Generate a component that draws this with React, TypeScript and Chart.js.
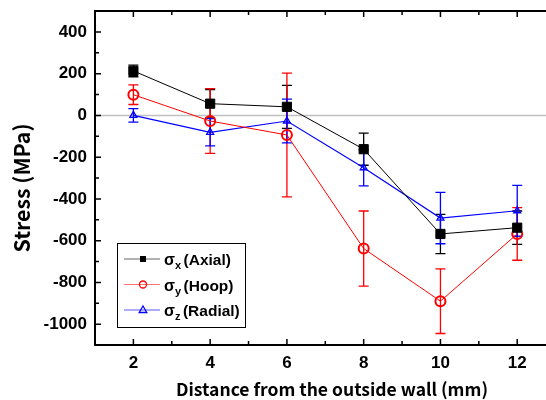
import React, { useEffect, useRef } from "react";
import { Chart, registerables } from "chart.js";

Chart.register(...registerables);

const xValues = [2, 4, 6, 8, 10, 12];
const axialValues = [213, 56, 41, -162, -568, -538];
const axialErrors = [28, 68, 103, 77, 94, 80];
const hoopValues = [99, -27, -94, -638, -890, -568];
const hoopErrors = [47, 155, 296, 180, 155, 126];
const radialValues = [0, -81, -27, -251, -492, -457];
const radialErrors = [32, 65, 105, 87, 123, 122];

const xTicks = [2, 4, 6, 8, 10, 12];
const yTicks = [-1000, -800, -600, -400, -200, 0, 200, 400];
const xTitle = "Distance from the outside wall (mm)";
const yTitle = "Stress (MPa)";
const legendItems = [
  { sym: "σ", sub: "x", name: "(Axial)", color: "#000000", line: "rgba(0,0,0,0.6)", marker: "rect" },
  { sym: "σ", sub: "y", name: "(Hoop)", color: "#ff0000", line: "rgba(255,0,0,0.55)", marker: "circle" },
  { sym: "σ", sub: "z", name: "(Radial)", color: "#0000ff", line: "rgba(0,0,255,0.65)", marker: "triangle" },
];

const SANS = "'Liberation Sans', Arial, sans-serif";
const TITLE_FAMILY = "'Noto Sans CJK KR', 'Noto Sans', sans-serif";

function fitFont(ctx: CanvasRenderingContext2D, text: string, family: string, target: number) {
  ctx.font = `bold 20px ${family}`;
  const w = ctx.measureText(text).width;
  const size = (20 * target) / w;
  ctx.font = `bold ${size.toFixed(2)}px ${family}`;
}

function drawMarker(ctx: CanvasRenderingContext2D, kind: string, x: number, y: number, color: string) {
  ctx.save();
  ctx.strokeStyle = color;
  ctx.fillStyle = color;
  ctx.lineWidth = 1.3;
  if (kind === "rect") {
    ctx.fillRect(x - 3, y - 3, 6, 6);
  } else if (kind === "circle") {
    ctx.beginPath();
    ctx.arc(x, y, 3.5, 0, Math.PI * 2);
    ctx.stroke();
  } else {
    ctx.beginPath();
    ctx.moveTo(x, y - 4);
    ctx.lineTo(x + 3.8, y + 2.5);
    ctx.lineTo(x - 3.8, y + 2.5);
    ctx.closePath();
    ctx.stroke();
  }
  ctx.restore();
}

const customPlugin = {
  id: "custom",
  beforeDatasetsDraw(chart: any) {
    const { ctx, chartArea, scales } = chart;
    const xs = scales.x;
    const ys = scales.y;
    ctx.save();
    ctx.strokeStyle = "#c0c0c0";
    ctx.lineWidth = 1.5;
    const y0 = ys.getPixelForValue(0);
    ctx.beginPath();
    ctx.moveTo(chartArea.left, y0);
    ctx.lineTo(chartArea.right, y0);
    ctx.stroke();
    chart.data.datasets.forEach((ds: any) => {
      ctx.strokeStyle = ds.borderColor;
      ctx.lineWidth = 1.3;
      ds.data.forEach((p: any, i: number) => {
        const e = ds.errors[i];
        const px = xs.getPixelForValue(p.x);
        const top = ys.getPixelForValue(p.y + e);
        const bot = ys.getPixelForValue(p.y - e);
        ctx.beginPath();
        ctx.moveTo(px, top);
        ctx.lineTo(px, bot);
        ctx.moveTo(px - 5, top);
        ctx.lineTo(px + 5, top);
        ctx.moveTo(px - 5, bot);
        ctx.lineTo(px + 5, bot);
        ctx.stroke();
      });
    });
    ctx.restore();
  },
  afterDraw(chart: any) {
    const { ctx, chartArea, scales } = chart;
    const xs = scales.x;
    const ys = scales.y;
    const { left, right, top, bottom } = chartArea;
    ctx.save();
    ctx.strokeStyle = "#000";
    ctx.lineWidth = 2;
    ctx.beginPath();
    ctx.moveTo(left, top);
    ctx.lineTo(right, top);
    ctx.moveTo(left, top - 1);
    ctx.lineTo(left, bottom);
    ctx.moveTo(left - 1, bottom);
    ctx.lineTo(right, bottom);
    ctx.stroke();
    ctx.lineWidth = 1.5;
    ctx.beginPath();
    for (let v = -1100; v <= 500; v += 100) {
      const py = ys.getPixelForValue(v);
      if (py < top + 1 || py > bottom - 1) continue;
      const major = yTicks.includes(v);
      ctx.moveTo(left, py);
      ctx.lineTo(left + (major ? 6 : 4), py);
    }
    for (let v = 1; v <= 13; v += 1) {
      const px = xs.getPixelForValue(v);
      if (px < left + 1 || px > right - 1) continue;
      const major = xTicks.includes(v);
      const len = major ? 6 : 4;
      ctx.moveTo(px, bottom);
      ctx.lineTo(px, bottom - len);
      ctx.moveTo(px, top);
      ctx.lineTo(px, top + len);
    }
    ctx.stroke();

    // axis titles
    ctx.fillStyle = "#000";
    ctx.textAlign = "center";
    ctx.textBaseline = "middle";
    fitFont(ctx, xTitle, TITLE_FAMILY, 312);
    ctx.fillText(xTitle, 332, 389);
    ctx.save();
    ctx.translate(22, 188);
    ctx.rotate(-Math.PI / 2);
    fitFont(ctx, yTitle, TITLE_FAMILY, 129);
    ctx.fillText(yTitle, 0, 0);
    ctx.restore();

    // legend
    const bx = 117, by = 243, bw = 128, bh = 84;
    ctx.fillStyle = "#fff";
    ctx.fillRect(bx, by, bw, bh);
    ctx.strokeStyle = "#000";
    ctx.lineWidth = 1;
    ctx.strokeRect(bx + 0.5, by + 0.5, bw, bh);
    legendItems.forEach((it, i) => {
      const cy = 259 + i * 25.5;
      ctx.strokeStyle = it.line;
      ctx.lineWidth = 1.2;
      ctx.beginPath();
      ctx.moveTo(124, cy);
      ctx.lineTo(160, cy);
      ctx.stroke();
      drawMarker(ctx, it.marker, 143, cy, it.color);
      ctx.fillStyle = "#000";
      ctx.textAlign = "left";
      ctx.textBaseline = "alphabetic";
      ctx.font = `bold 16px ${SANS}`;
      let tx = 164;
      ctx.fillText(it.sym, tx, cy + 6);
      tx += ctx.measureText(it.sym).width;
      ctx.font = `bold 11px ${SANS}`;
      ctx.fillText(it.sub, tx, cy + 10);
      tx += ctx.measureText(it.sub).width + 2.5;
      ctx.font = `bold 15.5px ${SANS}`;
      ctx.fillText(it.name, tx, cy + 6);
    });
    ctx.restore();
  },
};

export default function App() {
  const ref = useRef<HTMLCanvasElement | null>(null);
  useEffect(() => {
    if (!ref.current) return;
    const mk = (values: number[]) => xValues.map((x, i) => ({ x, y: values[i] }));
    const zeroPad = (s: any) => {
      s.paddingLeft = 0;
      s.paddingRight = 0;
      s.paddingTop = 0;
      s.paddingBottom = 0;
    };
    const chart = new Chart(ref.current, {
      type: "line",
      data: {
        datasets: [
          {
            label: "σx (Axial)",
            data: mk(axialValues),
            errors: axialErrors,
            borderColor: "#000000",
            backgroundColor: "#000000",
            borderWidth: 1,
            pointStyle: "rect",
            pointRadius: 6.5,
            pointBorderWidth: 1,
            pointBackgroundColor: "#000000",
          } as any,
          {
            label: "σy (Hoop)",
            data: mk(hoopValues),
            errors: hoopErrors,
            borderColor: "#ff0000",
            backgroundColor: "rgba(0,0,0,0)",
            borderWidth: 1,
            pointStyle: "circle",
            pointRadius: 5,
            pointBorderWidth: 2,
            pointBackgroundColor: "rgba(0,0,0,0)",
          } as any,
          {
            label: "σz (Radial)",
            data: mk(radialValues),
            errors: radialErrors,
            borderColor: "#0000ff",
            backgroundColor: "rgba(0,0,0,0)",
            borderWidth: 1.2,
            pointStyle: "triangle",
            pointRadius: 4,
            pointBorderWidth: 1.3,
            pointBackgroundColor: "rgba(0,0,0,0)",
          } as any,
        ],
      },
      options: {
        animation: false,
        responsive: false,
        devicePixelRatio: 1,
        layout: { padding: { top: 11, right: 0, left: 0, bottom: 0 }, autoPadding: false },
        plugins: { legend: { display: false }, tooltip: { enabled: false } },
        scales: {
          x: {
            type: "linear",
            min: 1,
            max: 12.75,
            afterBuildTicks: (s: any) => {
              s.ticks = xTicks.map((v) => ({ value: v }));
            },
            afterFit: (s: any) => {
              s.height = 55;
              zeroPad(s);
            },
            grid: { display: false, drawTicks: false },
            border: { display: false },
            ticks: {
              padding: 8,
              color: "#000",
              font: { family: SANS, size: 17, weight: "bold" },
              maxRotation: 0,
              callback: (v: any) => String(v),
            },
          },
          y: {
            type: "linear",
            min: -1100,
            max: 500,
            afterBuildTicks: (s: any) => {
              s.ticks = yTicks.map((v) => ({ value: v }));
            },
            afterFit: (s: any) => {
              s.width = 95;
              zeroPad(s);
            },
            grid: { display: false, drawTicks: false },
            border: { display: false },
            ticks: {
              padding: 8,
              color: "#000",
              font: { family: SANS, size: 17, weight: "bold" },
              callback: (v: any) => String(v),
            },
          },
        },
      } as any,
      plugins: [customPlugin],
    });
    return () => chart.destroy();
  }, []);
  return (
    <div style={{ position: "absolute", left: 0, top: 0, width: 546, height: 400, background: "#fff" }}>
      <canvas ref={ref} width={546} height={400} style={{ width: 546, height: 400 }} />
    </div>
  );
}
